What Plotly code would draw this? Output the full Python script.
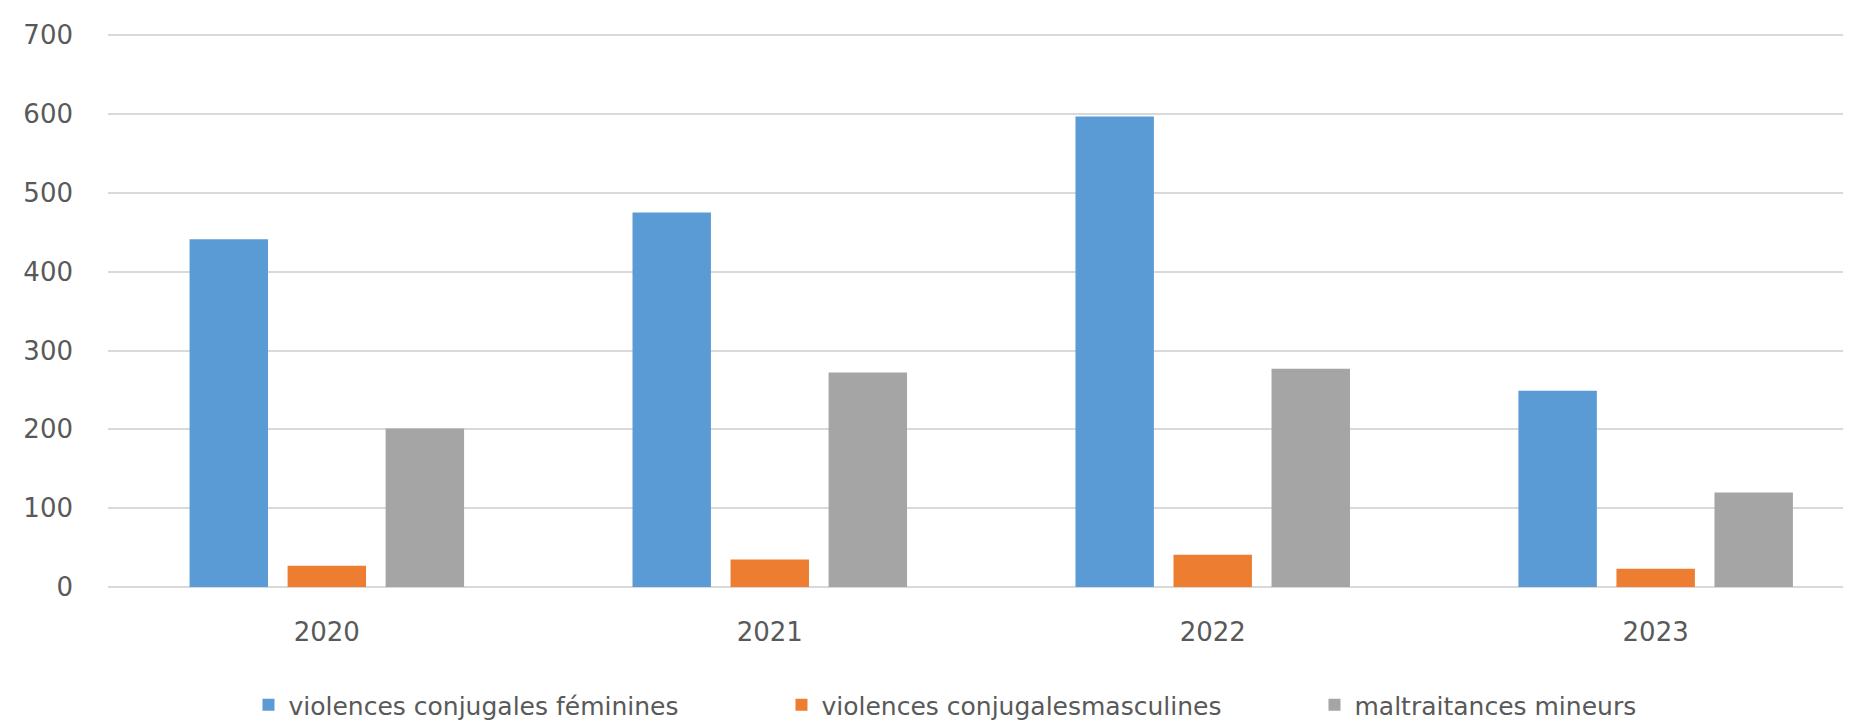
import plotly.graph_objects as go

years = ["2020", "2021", "2022", "2023"]
feminines = [441, 475, 597, 249]
masculines = [27, 35, 41, 23]
mineurs = [201, 272, 277, 120]
series_names = ["violences conjugales féminines", "violences conjugalesmasculines", "maltraitances mineurs"]
colors = ["#5b9bd5", "#ed7d31", "#a5a5a5"]
y_ticks = [0, 100, 200, 300, 400, 500, 600, 700]

fig = go.Figure()
for name, vals, col in zip(series_names, [feminines, masculines, mineurs], colors):
    fig.add_trace(go.Bar(x=years, y=vals, name=name, marker=dict(color=col, line=dict(width=0))))

font = dict(family="DejaVu Sans", size=26, color="#595959")
legend_font = dict(family="DejaVu Sans", size=25, color="#595959")
fig.update_layout(
    width=1843, height=712,
    margin=dict(l=100, r=0, t=26, b=133, autoexpand=False),
    paper_bgcolor="white", plot_bgcolor="white",
    barmode="group", bargap=0.336, bargroupgap=0.2,
    font=font,
    legend=dict(orientation="h", x=0.0806, xanchor="left", y=-0.2135, yanchor="middle",
                entrywidth=488, font=legend_font, itemwidth=30),
    xaxis=dict(range=[-0.494, 3.441], showgrid=False, showline=False, zeroline=False,
               ticks="", ticklabelstandoff=27, tickfont=font, automargin=False),
    yaxis=dict(range=[0, 701.5], tickvals=y_ticks, showgrid=True, gridcolor="#d9d9d9", gridwidth=2,
               zeroline=True, zerolinecolor="#d9d9d9", zerolinewidth=2, showline=False,
               ticks="", ticklabelstandoff=34, tickfont=font, automargin=False),
)
fig.write_html("out.html")
